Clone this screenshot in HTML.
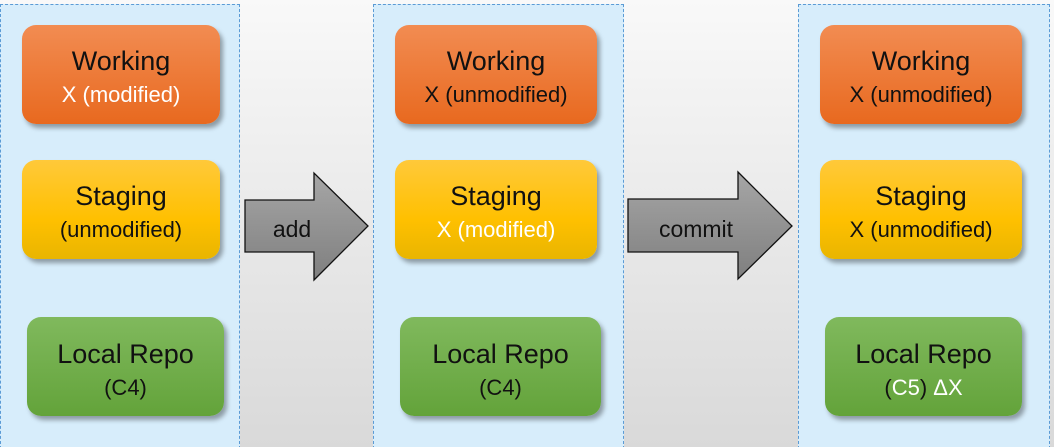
<!DOCTYPE html><html><head><style>
html,body{margin:0;width:1054px;height:447px;overflow:hidden}
body{background:linear-gradient(#f9f9f9,#d9d9d9);font-family:"Liberation Sans","DejaVu Sans",sans-serif;position:relative}
.p{position:absolute;top:4px;height:450px;background:#d7edfb;border:1px dashed #5b9bd5;box-sizing:border-box}
.b{position:absolute;height:99px;border-radius:14px;box-shadow:3px 4px 5px rgba(0,0,0,.35);text-align:center;box-sizing:border-box;padding-top:20px;line-height:33px}
.t{font-size:27px;color:#111}.s{font-size:22px}
.o{background:linear-gradient(#f28c52,#e8691f)}
.y{background:linear-gradient(#ffc93a,#ffc000 60%,#e9b500)}
.g{background:linear-gradient(#80b95d,#63a33a)}
.w{color:#fff}.k{color:#111}
svg{position:absolute;left:0;top:0}
</style></head><body>
<div class="p" style="left:0;width:240px"></div>
<div class="p" style="left:373px;width:251px"></div>
<div class="p" style="left:798px;width:252px"></div>

<div class="b o" style="left:22px;top:25px;width:198px"><div class="t">Working</div><div class="s w">X (modified)</div></div>
<div class="b y" style="left:22px;top:160px;width:198px"><div class="t">Staging</div><div class="s k">(unmodified)</div></div>
<div class="b g" style="left:27px;top:317px;width:197px;padding-top:21px"><div class="t">Local Repo</div><div class="s k">(C4)</div></div>

<div class="b o" style="left:395px;top:25px;width:202px"><div class="t">Working</div><div class="s k">X (unmodified)</div></div>
<div class="b y" style="left:395px;top:160px;width:202px"><div class="t">Staging</div><div class="s w">X (modified)</div></div>
<div class="b g" style="left:400px;top:317px;width:201px;padding-top:21px"><div class="t">Local Repo</div><div class="s k">(C4)</div></div>

<div class="b o" style="left:820px;top:25px;width:202px"><div class="t">Working</div><div class="s k">X (unmodified)</div></div>
<div class="b y" style="left:820px;top:160px;width:202px"><div class="t">Staging</div><div class="s k">X (unmodified)</div></div>
<div class="b g" style="left:825px;top:317px;width:197px;padding-top:21px"><div class="t">Local Repo</div><div class="s w"><span style="color:#111">(</span>C5<span style="color:#111">)</span> ΔX</div></div>

<svg width="1054" height="447">
<defs><linearGradient id="a" x1="0" y1="0" x2="0" y2="1"><stop offset="0" stop-color="#a6a6a6"/><stop offset="1" stop-color="#7f7f7f"/></linearGradient></defs>
<polygon points="245,200 314,200 314,173 368,226 314,280 314,252 245,252" fill="url(#a)" stroke="#111" stroke-width="1.3"/>
<polygon points="628,199 738,199 738,172 792,226 738,279 738,252 628,252" fill="url(#a)" stroke="#111" stroke-width="1.3"/>
<text x="292" y="237" font-size="23" text-anchor="middle" fill="#111" font-family="Liberation Sans,sans-serif">add</text>
<text x="696" y="237" font-size="23" text-anchor="middle" fill="#111" font-family="Liberation Sans,sans-serif">commit</text>
</svg>
</body></html>
